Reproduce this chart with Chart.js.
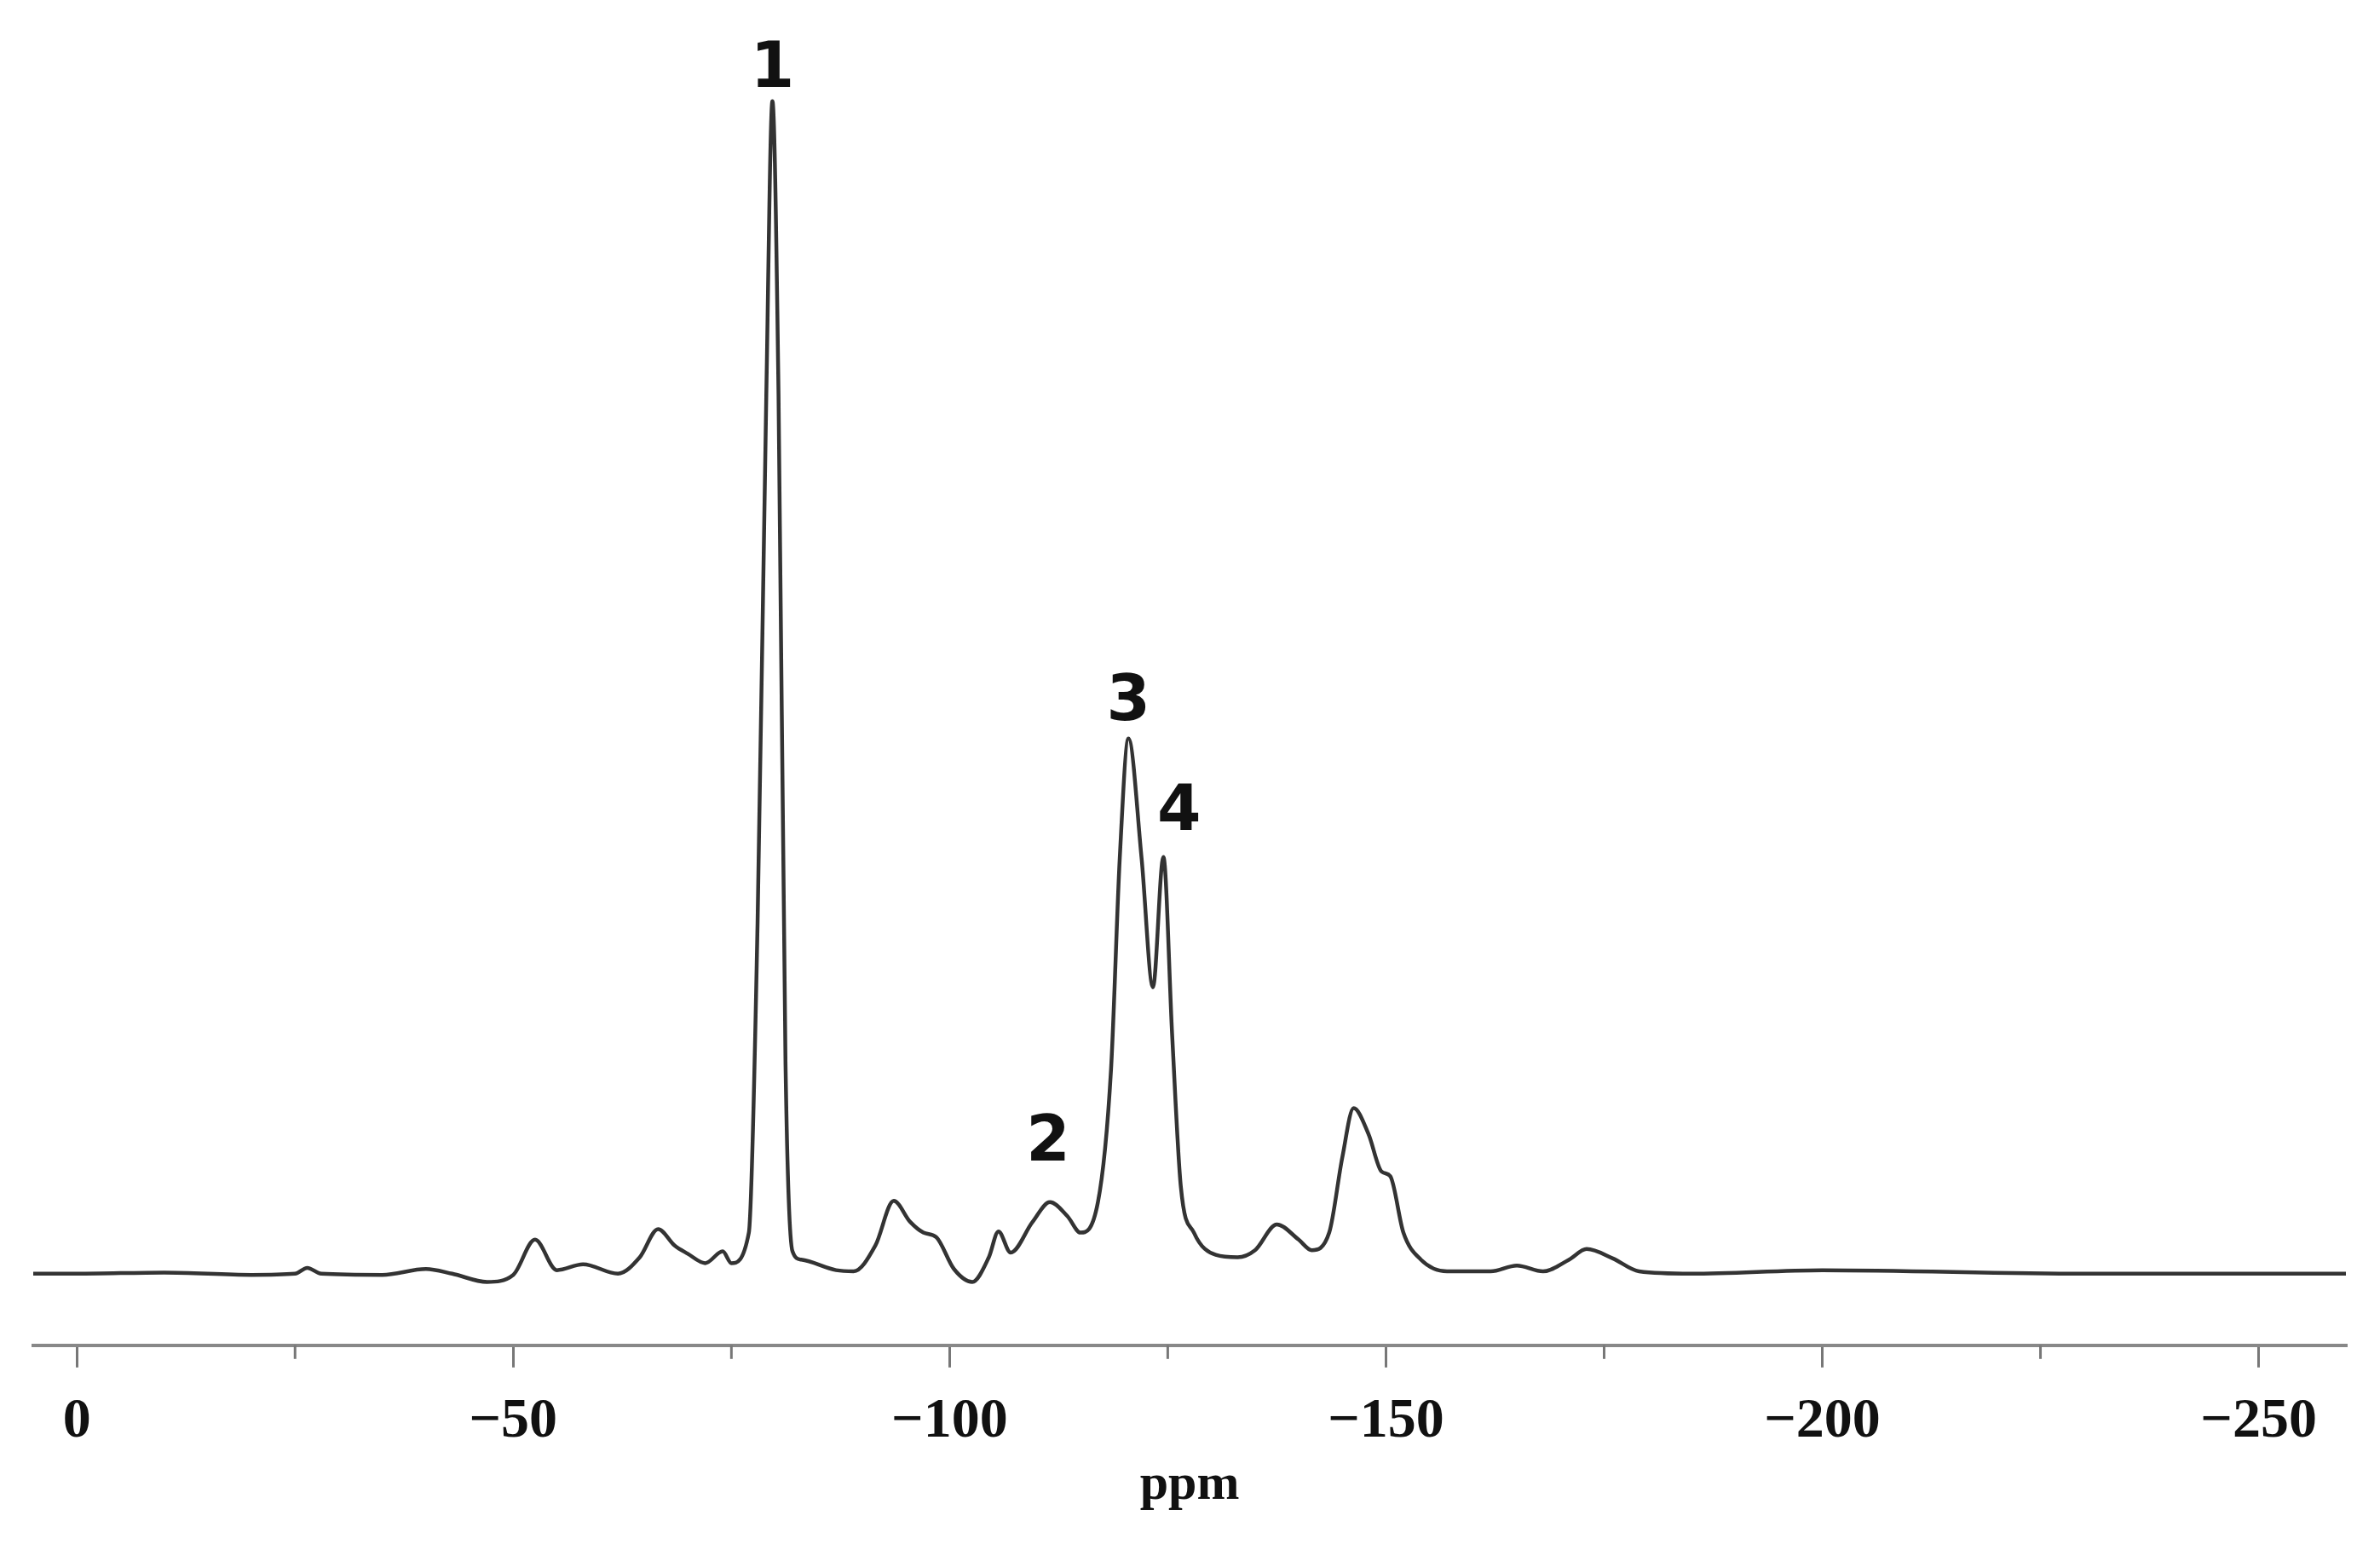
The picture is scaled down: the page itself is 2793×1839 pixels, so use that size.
<!DOCTYPE html>
<html><head><meta charset="utf-8">
<script src="https://cdn.jsdelivr.net/npm/chart.js@4"></script>
<style>html,body{margin:0;padding:0;background:#fff}#w{width:2793px;height:1839px}</style>
</head><body><div id="w"><canvas id="c"></canvas></div>
<script>
const ppm = [5,0,-10,-20,-25,-26.4,-28,-35,-40,-43,-47,-50,-52.5,-55,-58,-62,-64.5,-66.6,-68.5,-70,-72,-74,-75,-77,-78,-79,-79.7,-80.4,-81.2,-82,-83,-87,-89,-91.5,-93.6,-95.5,-97,-98.5,-100.5,-102.6,-104.5,-105.6,-107,-109.5,-111.5,-113.5,-115,-117,-118.5,-119.5,-120.5,-122,-123.3,-124.5,-125.5,-126.5,-128,-130.5,-133,-135,-137.5,-140,-141.5,-143.5,-145,-146.3,-148,-149.5,-150.5,-152,-154,-157,-162,-165,-168,-171,-173,-176,-179,-185,-200,-230,-260];
const intensity = [0.1,0.1,0.2,0.0,0.1,0.6,0.1,0.0,0.5,0.1,-0.6,0.0,3.0,0.4,0.9,0.1,1.5,3.9,2.5,1.8,1.0,2.0,1.0,3.6,30,75,100,75,18,2.0,1.3,0.4,0.3,2.5,6.3,4.5,3.6,3.2,0.5,-0.6,1.5,3.7,1.9,4.5,6.2,5.0,3.6,6.2,17.5,35.5,45.7,35.5,24.5,35.6,20.5,7.5,3.6,1.7,1.5,2.1,4.3,3.0,2.1,3.6,10.0,14.2,12.0,8.8,8.4,3.6,1.3,0.3,0.3,0.8,0.3,1.3,2.2,1.4,0.3,0.1,0.4,0.1,0.1];
const peakLabels = ['1','2','3','4'];
const peakX = [-79.7,-111.3,-120.5,-126.3];
const peakY = [102.6,11.1,48.7,39.3];
const majorTicks = [0,-50,-100,-150,-200,-250];
const minorTicks = [-25,-75,-125,-175,-225];

const pts = ppm.map((x,i)=>({x:x,y:intensity[i]}));
const labelPlugin = {
  id:'lbl',
  afterDatasetsDraw(ch){
    const {ctx,scales:{x,y}} = ch;
    ctx.save();
    ctx.fillStyle='#111';
    ctx.font='bold 74px "DejaVu Sans"';
    ctx.textAlign='center';ctx.textBaseline='middle';
    peakLabels.forEach((t,i)=>ctx.fillText(t,x.getPixelForValue(peakX[i]),y.getPixelForValue(peakY[i])));
    ctx.strokeStyle='#777';ctx.lineWidth=3;
    const b = ch.chartArea.bottom;
    minorTicks.forEach(v=>{const px=x.getPixelForValue(v);ctx.beginPath();ctx.moveTo(px,b);ctx.lineTo(px,b+16);ctx.stroke();});
    ctx.restore();
  }
};
new Chart(document.getElementById('c'),{
  type:'line',
  data:{datasets:[{data:pts,borderColor:'#333',borderWidth:4.5,pointRadius:0,fill:false,cubicInterpolationMode:'monotone'}]},
  options:{
    responsive:true,maintainAspectRatio:false,animation:false,
    layout:{padding:{left:39,right:40,top:36,bottom:60}},
    plugins:{legend:{display:false},tooltip:{enabled:false}},
    scales:{
      x:{type:'linear',reverse:true,min:-260,max:5,
        afterBuildTicks(s){s.ticks=majorTicks.map(v=>({value:v}));},
        ticks:{color:'#111',font:{family:'Liberation Serif',weight:'bold',size:66},padding:25,maxRotation:0,
          callback:v=>v===0?'0':'\u2212'+Math.abs(v)},
        grid:{display:true,drawOnChartArea:false,color:'#777',lineWidth:3,tickLength:26},
        border:{display:true,color:'#888',width:4},
        title:{display:true,text:'ppm',color:'#111',font:{family:'Liberation Serif',weight:'bold',size:60},padding:{top:-27,bottom:0}}
      },
      y:{display:false,min:-6,max:106}
    }
  },
  plugins:[labelPlugin]
});
</script></body></html>
